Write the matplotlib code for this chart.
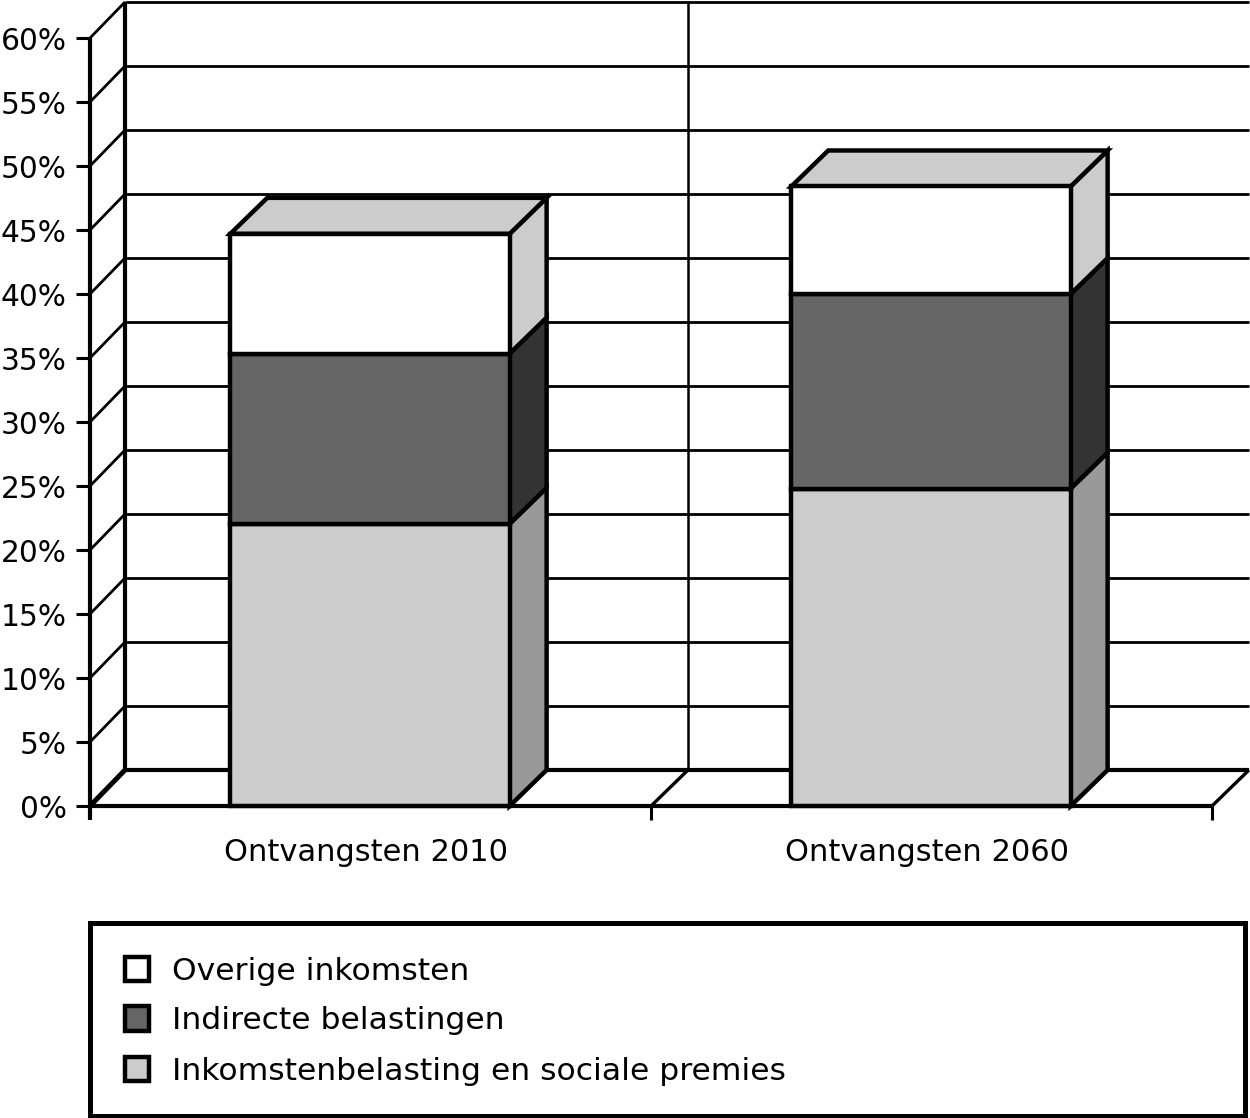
import matplotlib
matplotlib.use("Agg")
import matplotlib.pyplot as plt
from matplotlib.patches import Polygon, Rectangle

categories = ["Ontvangsten 2010", "Ontvangsten 2060"]
series_names = ["Inkomstenbelasting en sociale premies", "Indirecte belastingen", "Overige inkomsten"]
inkomsten = [22.05, 24.8]
indirect = [13.3, 15.2]
overig = [9.35, 8.4]
series = [inkomsten, indirect, overig]
front_colors = ["#cccccc", "#666666", "#ffffff"]
side_colors = ["#999999", "#333333", "#cccccc"]
top_color = "#cccccc"
y_ticks = list(range(0, 65, 5))

FONT = "DejaVu Sans"
FS = 22
W, H = 1250, 1118
fig = plt.figure(figsize=(W / 100, H / 100), dpi=100)
L, R, T, B = 90, 1212, 38, 806
ax = fig.add_axes([L / W, 1 - B / H, (R - L) / W, (B - T) / H])
ax.set_xlim(0, 2)
ax.set_ylim(0, 60)
ax.axis("off")

UX = 2 / (R - L)
DXL = 35 * UX
DX = 37 * UX
DY = 36 * 60 / (B - T)
UY = 60 / (B - T)
LW = 3.2
kw = dict(clip_on=False, edgecolor="black", joinstyle="miter")
line = dict(color="black", clip_on=False, solid_capstyle="butt")

# walls
for v in y_ticks:
    ax.plot([0, DXL], [v, v + DY], lw=2 if v else 3.6, zorder=1, **line)
    ax.plot([DXL, 2 + DX], [v + DY, v + DY], lw=2 if v else 3.0, zorder=1, **line)
    ax.plot([-0.025, 0], [v, v], lw=2.2, zorder=1, **line)
    ax.text(-0.0415, v - 4 * UY, f"{v}%", ha="right", va="center", fontsize=21.3,
            family=FONT, clip_on=False)
ax.plot([DXL, DXL], [DY, 60 + DY], lw=3.0, zorder=1, **line)
ax.plot([0, 0], [-14 * UY, 60], lw=3.0, zorder=2, **line)
ax.plot([0, 2], [0, 0], lw=3.0, zorder=2, **line)
ax.plot([1 + DX, 1 + DX], [DY, 60 + DY], lw=1.8, zorder=1, **line)
for x in [1, 2]:
    ax.plot([x, x + DX], [0, DY], lw=2.4, zorder=1, **line)
    ax.plot([x, x], [0, -14 * UY], lw=2.2, zorder=1, **line)

# bars
for i, name in enumerate(categories):
    x0, x1 = i + 0.25, i + 0.748
    base = 0
    for vals, fc, sc in zip(series, front_colors, side_colors):
        v = vals[i]
        ax.add_patch(Polygon([(x1, base), (x1 + DX, base + DY), (x1 + DX, base + v + DY), (x1, base + v)],
                             facecolor=sc, linewidth=LW, zorder=3, **kw))
        ax.add_patch(Rectangle((x0, base), x1 - x0, v, facecolor=fc, linewidth=LW, zorder=4, **kw))
        base += v
    ax.add_patch(Polygon([(x0, base), (x0 + DX, base + DY), (x1 + DX, base + DY), (x1, base)],
                         facecolor=top_color, linewidth=LW, zorder=3, **kw))
    ax.text(i + 0.4925, -3.65, name, ha="center", va="center", fontsize=FS,
            family=FONT, clip_on=False)

# legend
lax = fig.add_axes([0, 0, 1, 1])
lax.set_xlim(0, W)
lax.set_ylim(H, 0)
lax.axis("off")
lax.patch.set_alpha(0)
lax.add_patch(Rectangle((90, 922.5), 1155, 193, facecolor="white", edgecolor="black", linewidth=3.6))
for name, fc, yc in zip(series_names, front_colors, [1069, 1018.5, 969]):
    lax.add_patch(Rectangle((124.5, yc - 12.2), 24.5, 24.5, facecolor=fc, edgecolor="black", linewidth=3.2))
    lax.text(172, yc + 2, name, ha="left", va="center", fontsize=22.6, family=FONT)

fig.savefig("out.png", dpi=100)
